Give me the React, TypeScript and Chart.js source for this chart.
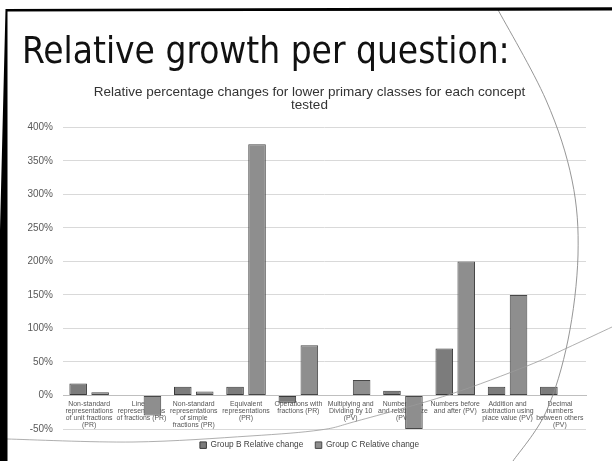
import React, { useEffect, useRef } from "react";
import { Chart, registerables } from "chart.js";

Chart.register(...registerables);

// ---- data ----
const slideTitle = "Relative growth per question:";
const chartTitle = [
  "Relative percentage changes for lower primary classes for each concept",
  "tested",
];
const categories: string[][] = [
  ["Non-standard", "representations", "of unit fractions", "(PR)"],
  ["Linear", "representations", "of fractions (PR)"],
  ["Non-standard", "representations", "of simple", "fractions (PR)"],
  ["Equivalent", "representations", "(PR)"],
  ["Operations with", "fractions (PR)"],
  ["Multiplying and", "Dividing by 10", "(PV)"],
  ["Number lines", "and relative size", "(PV)"],
  ["Numbers before", "and after (PV)"],
  ["Addition and", "subtraction using", "place value (PV)"],
  ["Decimal", "numbers", "between others", "(PV)"],
];
const seriesNames = ["Group B Relative change", "Group C Relative change"];
const groupB = [18, 0, 13, 13, -11, 0, 7, 70, 13, 13];
const groupC = [5, -30, 6, 375, 75, 23, -50, 200, 150, 0];
const yMin = -50;
const yMax = 400;
const yStep = 50;

// ---- decoration (slide artwork) ----
const arcPts = [
  [497, 8], [546, 100], [572, 180], [578, 255], [568, 340], [546, 412], [513, 461],
];
const swooshPts = [
  [7, 439], [133, 442], [250, 436], [320, 430], [357, 421], [448, 395],
  [527, 366], [567, 348], [612, 327],
];

function smooth(pts: number[][]): string {
  let d = `M${pts[0][0]},${pts[0][1]}`;
  for (let i = 0; i < pts.length - 1; i++) {
    const p0 = pts[i - 1] || pts[i];
    const p1 = pts[i];
    const p2 = pts[i + 1];
    const p3 = pts[i + 2] || p2;
    const c1 = [p1[0] + (p2[0] - p0[0]) / 6, p1[1] + (p2[1] - p0[1]) / 6];
    const c2 = [p2[0] - (p3[0] - p1[0]) / 6, p2[1] - (p3[1] - p1[1]) / 6];
    d += ` C${c1[0]},${c1[1]} ${c2[0]},${c2[1]} ${p2[0]},${p2[1]}`;
  }
  return d;
}

const FONT = "'Liberation Sans', Arial, sans-serif";

// shifts the title and legend boxes so they centre over the slide's chart frame
const shiftBoxes = {
  id: "shiftBoxes",
  afterLayout(c: any) {
    if (c.titleBlock) c.titleBlock.left = 33;
    if (c.legend) c.legend.left = 33;
  },
};

export default function App() {
  const ref = useRef<HTMLCanvasElement | null>(null);

  useEffect(() => {
    if (!ref.current) return;
    Chart.defaults.font.family = FONT;
    const chart = new Chart(ref.current, {
      type: "bar",
      data: {
        labels: categories,
        datasets: [
          {
            label: seriesNames[0],
            data: groupB,
            backgroundColor: "#7c7c7c",
            borderColor: "#3a3a3a",
            borderWidth: 1,
            borderSkipped: false,
            categoryPercentage: 0.84,
            barPercentage: 0.8,
          },
          {
            label: seriesNames[1],
            data: groupC,
            backgroundColor: "#8e8e8e",
            borderColor: "#474747",
            borderWidth: 1,
            borderSkipped: false,
            categoryPercentage: 0.84,
            barPercentage: 0.8,
          },
        ],
      },
      plugins: [shiftBoxes],
      options: {
        animation: false,
        responsive: false,
        maintainAspectRatio: false,
        layout: { padding: { left: 0, right: 26, top: 0, bottom: 1.7 } },
        plugins: {
          title: {
            display: true,
            text: chartTitle,
            color: "#333333",
            font: { family: FONT, size: 13.5, weight: "normal", lineHeight: 0.94 },
            padding: { top: 86, bottom: 16 },
          },
          legend: {
            position: "bottom",
            labels: {
              boxWidth: 6.5,
              boxHeight: 6.5,
              padding: 12,
              color: "#404040",
              font: { family: FONT, size: 8.3 },
            },
          },
          tooltip: { enabled: false },
        },
        scales: {
          x: {
            position: { y: 0 },
            grid: { display: false, drawTicks: false },
            border: { display: true, color: "#bfbfbf", width: 1 },
            ticks: {
              autoSkip: false,
              maxRotation: 0,
              minRotation: 0,
              padding: 5,
              color: "#555555",
              font: { family: FONT, size: 6.9, lineHeight: 1.02 },
            },
          },
          y: {
            min: yMin,
            max: yMax,
            ticks: {
              stepSize: yStep,
              padding: 10,
              color: "#595959",
              font: { family: FONT, size: 10 },
              callback: (v: any) => `${v}%`,
            },
            grid: { color: "#d9d9d9", drawTicks: false },
            border: { display: false },
            afterFit: (s: any) => {
              s.width = 63;
            },
          },
        },
      },
    } as any);
    return () => chart.destroy();
  }, []);

  return (
    <div style={{ position: "absolute", left: 0, top: 0, width: 612, height: 461, background: "#fff", overflow: "hidden" }}>
      <canvas
        ref={ref}
        width={612}
        height={461}
        style={{ position: "absolute", left: 0, top: 0, width: 612, height: 461, display: "block" }}
      />
      <div
        style={{
          position: "absolute",
          left: 22,
          top: 29,
          fontFamily: "'DejaVu Sans Condensed', 'DejaVu Sans', sans-serif",
          fontStretch: "condensed",
          fontSize: 36.7,
          lineHeight: "44px",
          color: "#111",
          whiteSpace: "nowrap",
        }}
      >
        {slideTitle}
      </div>
      <svg
        width={612}
        height={461}
        style={{ position: "absolute", left: 0, top: 0, pointerEvents: "none" }}
      >
        <path d={smooth(arcPts)} fill="none" stroke="#8a8a8a" strokeWidth={0.9} />
        <path d={smooth(swooshPts)} fill="none" stroke="#9a9a9a" strokeWidth={0.8} />
        <polygon points="5.5,9 612,7.3 612,10.5 7.5,11.5 7.5,461 0,461 0,230" fill="#000" />
      </svg>
    </div>
  );
}
